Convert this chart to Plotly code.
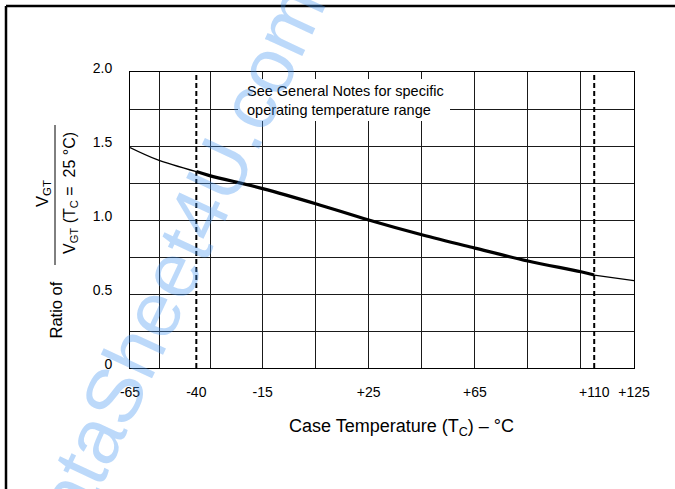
"""
Ratio of V_GT vs case temperature (datasheet chart).
"""

import plotly.graph_objects as go

# curve
temps = [-65, -55, -40, -35, -15, 5, 25, 45, 65, 85, 105, 110, 125]
ratios = [1.49, 1.41, 1.327, 1.30, 1.212, 1.11, 1.0, 0.90, 0.81, 0.723, 0.65, 0.628, 0.59]

# operating range limits (dashed)
range_limits = [-40, 110]

x_tickvals = [-65, -40, -15, 25, 65, 110, 125]
x_ticktext = ["-65", "-40", "-15", "+25", "+65", "+110", "+125"]
x_gridvals = [-54, -34.5, -15, 5, 25, 45, 65, 85, 105]

y_tickvals = [0, 0.5, 1.0, 1.5, 2.0]
y_ticktext = ["0", "0.5", "1.0", "1.5", "2.0"]

FONT = "Arial, Liberation Sans, sans-serif"
W, H = 675, 489
ML, MR, MT, MB = 130, 41, 72, 121


def px(x, y):
    """pixel position -> paper coords"""
    pw = W - ML - MR
    ph = H - MT - MB
    return (x - ML) / pw, (H - MB - y) / ph


i0 = temps.index(range_limits[0])
i1 = temps.index(range_limits[1])

fig = go.Figure()
for seg, w in [((0, i0 + 1), 1.3), ((i0, i1 + 1), 3.2), ((i1, len(temps)), 1.3)]:
    fig.add_trace(go.Scatter(
        x=temps[seg[0]:seg[1]], y=ratios[seg[0]:seg[1]],
        mode="lines", line=dict(color="black", width=w, shape="spline"),
        showlegend=False, hoverinfo="skip",
    ))

for t in range_limits:
    fig.add_trace(go.Scatter(
        x=[t, t], y=[0, 2], mode="lines",
        line=dict(color="black", width=2, dash="5px,3px"),
        showlegend=False, hoverinfo="skip",
    ))

shapes = []
# white box behind the note
x0, y0 = px(238, 79)
x1, y1 = px(450, 121)
shapes.append(dict(type="rect", xref="paper", yref="paper", x0=x0, y0=y1, x1=x1, y1=y0,
                   fillcolor="white", line=dict(width=0), layer="above"))
# outer frame (top + left only visible)
a, b = px(6, 6)
c, d = px(675, 489)
shapes.append(dict(type="line", xref="paper", yref="paper", x0=a, y0=b, x1=c, y1=b,
                   line=dict(color="black", width=2.5)))
shapes.append(dict(type="line", xref="paper", yref="paper", x0=a, y0=b, x1=a, y1=d,
                   line=dict(color="black", width=2.5)))
# fraction bar in y title
fx, fy0 = px(55, 125)
_, fy1 = px(55, 265)
shapes.append(dict(type="line", xref="paper", yref="paper", x0=fx, y0=fy0, x1=fx, y1=fy1,
                   line=dict(color="black", width=1)))

annotations = []
nx, ny = px(245, 100)
annotations.append(dict(
    xref="paper", yref="paper", x=nx, y=ny, xanchor="left", yanchor="middle",
    text="See General Notes for specific<br>operating temperature range",
    align="left", showarrow=False, font=dict(size=14.5, color="black", family=FONT),
))
ax, ay = px(401, 427)
annotations.append(dict(
    xref="paper", yref="paper", x=ax, y=ay, xanchor="center", yanchor="middle",
    text="Case Temperature (T<sub>C</sub>) – °C", showarrow=False,
    font=dict(size=18, color="black", family=FONT),
))
rx, ry = px(55.5, 310)
annotations.append(dict(
    xref="paper", yref="paper", x=rx, y=ry, xanchor="center", yanchor="middle",
    text="Ratio of", textangle=-90, showarrow=False,
    font=dict(size=16.5, color="black", family=FONT),
))
ux, uy = px(43, 194)
annotations.append(dict(
    xref="paper", yref="paper", x=ux, y=uy, xanchor="center", yanchor="middle",
    text="V<sub>GT</sub>", textangle=-90, showarrow=False,
    font=dict(size=16.5, color="black", family=FONT),
))
lx, ly = px(70, 193)
annotations.append(dict(
    xref="paper", yref="paper", x=lx, y=ly, xanchor="center", yanchor="middle",
    text="V<sub>GT</sub> (T<sub>C</sub> =  25 °C)", textangle=-90, showarrow=False,
    font=dict(size=16, color="black", family=FONT),
))
# watermark
wx, wy = px(168, 280)
annotations.append(dict(
    xref="paper", yref="paper", x=wx, y=wy, xanchor="center", yanchor="middle",
    text="DataSheet4U.com", textangle=-65, showarrow=False,
    font=dict(size=78, color="rgba(70,150,240,0.36)", family=FONT),
))

fig.update_layout(
    width=W, height=H,
    margin=dict(l=ML, r=MR, t=MT, b=MB),
    paper_bgcolor="white", plot_bgcolor="white",
    font=dict(family=FONT, size=14, color="black"),
    shapes=shapes, annotations=annotations,
    xaxis=dict(
        range=[-65, 125], tickmode="array", tickvals=x_tickvals, ticktext=x_ticktext,
        showgrid=False, zeroline=False, showline=True, mirror=True,
        linecolor="black", linewidth=1, ticks="", ticklabelstandoff=11,
        minor=dict(tickmode="array", tickvals=x_gridvals, showgrid=True,
                   gridcolor="#1a1a1a", gridwidth=1, ticks=""),
    ),
    yaxis=dict(
        range=[0, 2], tickmode="array", tickvals=y_tickvals, ticktext=y_ticktext,
        showgrid=True, gridcolor="#1a1a1a", gridwidth=1, zeroline=False,
        showline=True, mirror=True, linecolor="black", linewidth=1,
        ticks="", ticklabelstandoff=14, ticklabelshift=-4,
        minor=dict(dtick=0.25, showgrid=True, gridcolor="#1a1a1a", gridwidth=1, ticks=""),
    ),
)

fig.write_html("out.html", config={"displayModeBar": False},
               post_script="document.body.style.margin='0';")
